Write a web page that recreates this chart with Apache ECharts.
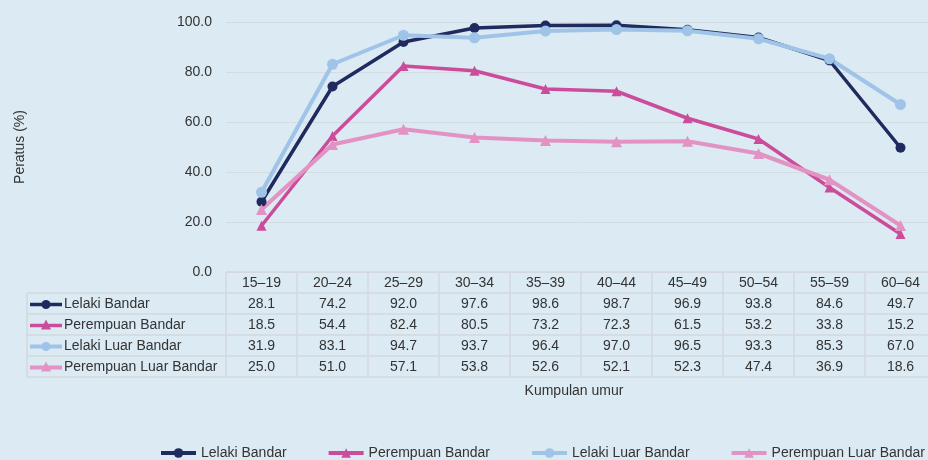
<!DOCTYPE html>
<html>
<head>
<meta charset="utf-8">
<script src="https://cdn.jsdelivr.net/npm/echarts@6/dist/echarts.min.js"></script>
<style>
  html, body { margin: 0; padding: 0; background: #dbeaf3; }
  #chart { width: 928px; height: 460px; }
</style>
</head>
<body>
<div id="chart"></div>
<script>
const categories = ['15–19', '20–24', '25–29', '30–34', '35–39', '40–44', '45–49', '50–54', '55–59', '60–64']
const lelakiBandar = [28.1, 74.2, 92.0, 97.6, 98.6, 98.7, 96.9, 93.8, 84.6, 49.7]
const perempuanBandar = [18.5, 54.4, 82.4, 80.5, 73.2, 72.3, 61.5, 53.2, 33.8, 15.2]
const lelakiLuarBandar = [31.9, 83.1, 94.7, 93.7, 96.4, 97.0, 96.5, 93.3, 85.3, 67.0]
const perempuanLuarBandar = [25.0, 51.0, 57.1, 53.8, 52.6, 52.1, 52.3, 47.4, 36.9, 18.6]
const yTicks = [0, 20, 40, 60, 80, 100]

const FONT = '"Liberation Sans", Arial, sans-serif'
const FS = 14
const TEXT = '#333333'
const BORDER = '#d3d9dd'

const rows = [
  { name: 'Lelaki Bandar', data: lelakiBandar, color: '#1f2a5e', symbol: 'circle', size: 10, width: 3.5 },
  { name: 'Perempuan Bandar', data: perempuanBandar, color: '#cc4c9c', symbol: 'triangle', size: 10, width: 3.5 },
  { name: 'Lelaki Luar Bandar', data: lelakiLuarBandar, color: '#9fc4e8', symbol: 'circle', size: 11, width: 4 },
  { name: 'Perempuan Luar Bandar', data: perempuanLuarBandar, color: '#e393c3', symbol: 'triangle', size: 11, width: 4 }
]

const chart = echarts.init(document.getElementById('chart'))

const option = {
  backgroundColor: '#dbeaf3',
  animation: false,
  textStyle: { fontFamily: FONT },
  grid: { left: 226, top: 22, width: 710, height: 250, outerBoundsMode: 'none', containLabel: false },
  legend: {
    top: 441,
    left: 159,
    width: 900,
    padding: [5, 0],
    itemWidth: 35,
    itemHeight: 12,
    itemGap: 40,
    lineStyle: { width: 4 },
    textStyle: { fontFamily: FONT, fontSize: FS, color: TEXT },
    data: rows.map(r => r.name)
  },
  xAxis: {
    type: 'category',
    data: categories,
    boundaryGap: true,
    axisLine: { show: false },
    axisTick: { show: false },
    axisLabel: { show: false },
    name: 'Kumpulan umur',
    nameLocation: 'middle',
    nameGap: 112,
    nameTextStyle: { fontFamily: FONT, fontSize: FS, color: TEXT, padding: [0, 14, 0, 0] }
  },
  yAxis: {
    type: 'value',
    min: yTicks[0],
    max: yTicks[yTicks.length - 1],
    interval: 20,
    axisLine: { show: false },
    axisTick: { show: false },
    axisLabel: {
      fontFamily: FONT,
      fontSize: FS,
      color: TEXT,
      margin: 14,
      formatter: v => v.toFixed(1)
    },
    splitLine: { lineStyle: { color: '#d3dce2', width: 1 } },
    name: 'Peratus (%)',
    nameLocation: 'middle',
    nameGap: 199,
    nameTextStyle: { fontFamily: FONT, fontSize: FS, color: TEXT }
  },
  series: rows.map(r => ({
    name: r.name,
    type: 'line',
    data: r.data,
    symbol: r.symbol,
    symbolSize: r.size,
    lineStyle: { color: r.color, width: r.width },
    itemStyle: { color: r.color },
    emphasis: { disabled: true }
  }))
}

chart.setOption(option)

// data table under the plot, positioned from the category axis
function buildTable() {
  const band = chart.convertToPixel({ xAxisIndex: 0 }, 1) - chart.convertToPixel({ xAxisIndex: 0 }, 0)
  const centers = categories.map((c, i) => chart.convertToPixel({ xAxisIndex: 0 }, i))
  const top = chart.convertToPixel({ yAxisIndex: 0 }, 0)
  const rowH = 21
  const leftX = 27
  const colLeft = centers[0] - band / 2
  const colRight = centers[centers.length - 1] + band / 2
  const g = []
  const line = (x1, y1, x2, y2) => g.push({
    type: 'line', shape: { x1, y1, x2, y2 },
    style: { stroke: BORDER, lineWidth: 1.5 }, silent: true
  })
  const text = (x, y, s, align) => g.push({
    type: 'text', x, y,
    style: { text: s, fill: TEXT, font: FS + 'px ' + FONT, align: align || 'center', verticalAlign: 'middle' },
    silent: true
  })

  // horizontal borders
  line(colLeft, top, colRight, top)
  for (let r = 1; r <= rows.length + 1; r++) {
    line(leftX, top + r * rowH, colRight, top + r * rowH)
  }
  // vertical borders
  line(leftX, top + rowH, leftX, top + (rows.length + 1) * rowH)
  for (let i = 0; i <= categories.length; i++) {
    const x = colLeft + i * band
    line(x, top, x, top + (rows.length + 1) * rowH)
  }
  // header
  categories.forEach((c, i) => text(centers[i], top + rowH / 2 + 1, c))
  // rows
  rows.forEach((r, k) => {
    const y = top + (k + 1.5) * rowH + 1
    g.push({
      type: 'line', shape: { x1: 30, y1: y, x2: 62, y2: y },
      style: { stroke: r.color, lineWidth: r.width }, silent: true
    })
    if (r.symbol === 'circle') {
      g.push({ type: 'circle', shape: { cx: 46, cy: y, r: 4.5 }, style: { fill: r.color }, silent: true })
    } else {
      g.push({
        type: 'polygon', shape: { points: [[46, y - 6], [51, y + 4], [41, y + 4]] },
        style: { fill: r.color }, silent: true
      })
    }
    text(64, y, r.name, 'left')
    r.data.forEach((v, i) => text(centers[i], y, v.toFixed(1)))
  })
  chart.setOption({ graphic: g })
}

buildTable()
</script>
</body>
</html>
